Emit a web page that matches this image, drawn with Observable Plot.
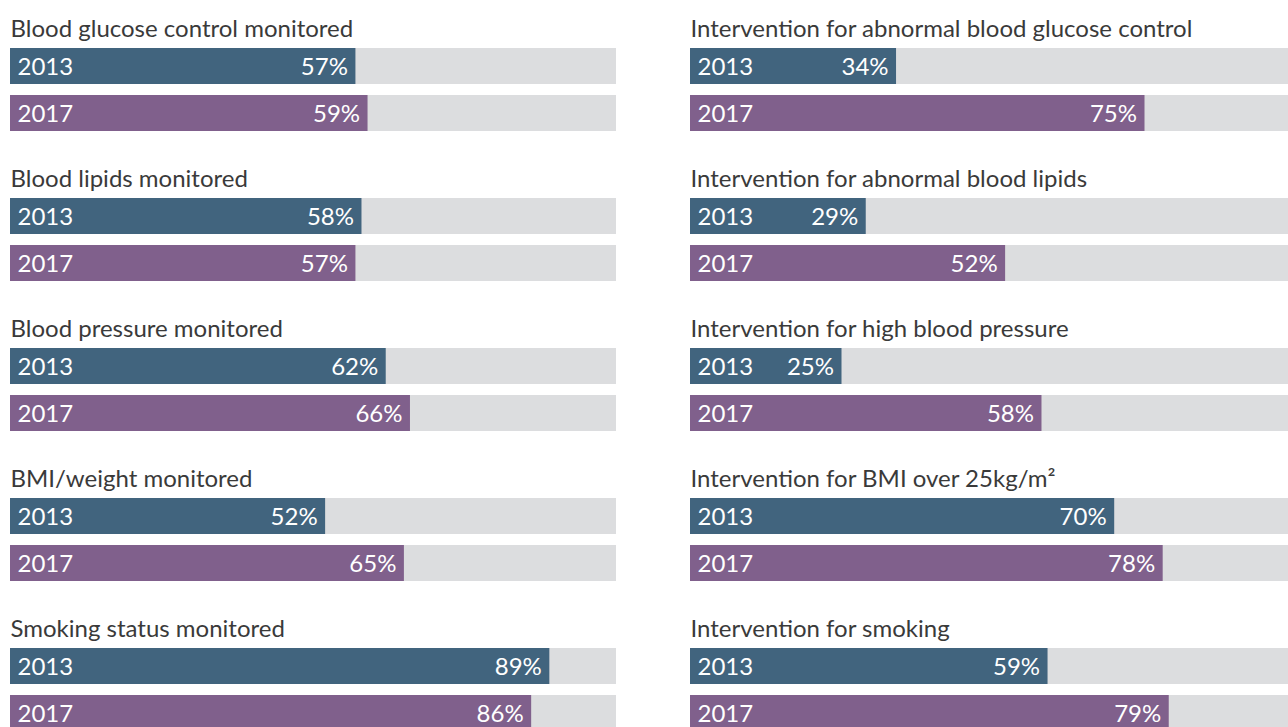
<!DOCTYPE html>
<html>
<head>
<meta charset="utf-8">
<script src="https://cdn.jsdelivr.net/npm/d3@7"></script>
<script src="https://cdn.jsdelivr.net/npm/@observablehq/plot@0.6"></script>
<style>
  html, body { margin: 0; padding: 0; background: #fff; overflow: hidden; }
  #chart svg { display: block; max-width: none; }
</style>
</head>
<body>
<div id="chart"></div>
<script>
const columns = ["left", "right"];
const years = ["2013", "2017"];
const leftTitles = ["Blood glucose control monitored", "Blood lipids monitored", "Blood pressure monitored", "BMI/weight monitored", "Smoking status monitored"];
const left2013 = [57, 58, 62, 52, 89];
const left2017 = [59, 57, 66, 65, 86];
const rightTitles = ["Intervention for abnormal blood glucose control", "Intervention for abnormal blood lipids", "Intervention for high blood pressure", "Intervention for BMI over 25kg/m²", "Intervention for smoking"];
const right2013 = [34, 29, 25, 70, 59];
const right2017 = [75, 52, 58, 78, 79];

const titles = [];
const rows = [];
[[leftTitles, left2013, left2017], [rightTitles, right2013, right2017]].forEach(([t, a, b], ci) => {
  t.forEach((title, gi) => {
    titles.push({col: columns[ci], group: gi, title});
    rows.push({col: columns[ci], group: gi, year: years[0], value: a[gi]});
    rows.push({col: columns[ci], group: gi, year: years[1], value: b[gi]});
  });
});

const font = "Lato, 'Open Sans', sans-serif";
const chart = Plot.plot({
  width: 1288,
  height: 727,
  margin: 0,
  style: {fontFamily: font, background: "#fff", overflow: "hidden"},
  fx: {domain: columns, range: [10, 1296], paddingInner: 74 / 680, paddingOuter: 0, axis: null},
  fy: {domain: [0, 1, 2, 3, 4], range: [0, 750], padding: 0, axis: null},
  x: {domain: [0, 100], range: [0, 606], axis: null},
  y: {domain: years, range: [48, 131], paddingInner: 11 / 47, paddingOuter: 0, axis: null},
  color: {domain: years, range: ["#41647e", "#80608c"]},
  marks: [
    Plot.barX(rows, {fx: "col", fy: "group", y: "year", x1: 0, x2: 100, fill: "#dcdddf", insetTop: 0, insetBottom: 0}),
    Plot.barX(rows, {fx: "col", fy: "group", y: "year", x1: 0, x2: "value", fill: "year", insetTop: 0, insetBottom: 0}),
    Plot.text(rows, {fx: "col", fy: "group", y: "year", x: 0, text: "year", dx: 7, dy: 1, textAnchor: "start", fill: "#fff", fontSize: 24, fontWeight: 400}),
    Plot.text(rows, {fx: "col", fy: "group", y: "year", x: "value", text: d => d.value + "%", dx: -8, dy: 1, textAnchor: "end", fill: "#fff", fontSize: 24, fontWeight: 400}),
    Plot.text(titles, {fx: "col", fy: "group", text: "title", frameAnchor: "top-left", lineAnchor: "top", dy: 19, textAnchor: "start", fill: "#3a3a3a", fontSize: 24, fontWeight: 400})
  ]
});
document.getElementById("chart").append(chart);
</script>
</body>
</html>
